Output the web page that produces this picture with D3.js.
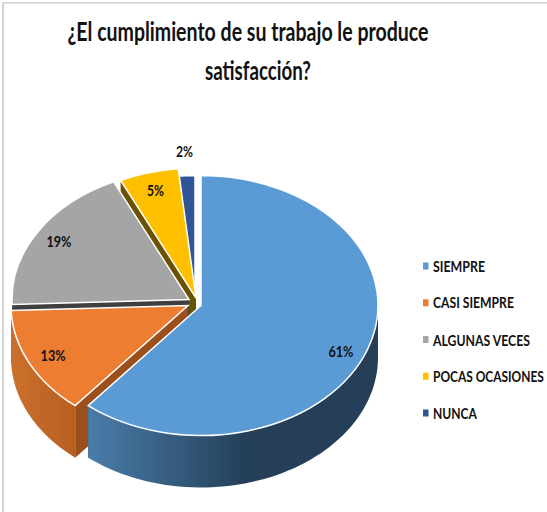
<!DOCTYPE html>
<html>
<head>
<meta charset="utf-8">
<script src="https://cdn.jsdelivr.net/npm/d3@7"></script>
<style>
html,body{margin:0;padding:0;background:#fff;}
svg{display:block;}
text{font-family:"Lato","Liberation Sans",sans-serif;font-weight:bold;fill:#111;}
</style>
</head>
<body>
<svg id="c" width="547" height="512"></svg>
<script>
const categories = ["SIEMPRE","CASI SIEMPRE","ALGUNAS VECES","POCAS OCASIONES","NUNCA"];
const seriesValues = [61,13.4,18.6,5.4,1.6];
const titleLines = ["¿El cumplimiento de su trabajo le produce","satisfacción?"];
const topColors = ["#5b9bd5","#ed7d31","#a5a5a5","#ffc000","#2f5597"];
const edgeColors = ["#24405a","#9a4f1c","#3f3f3f","#6b5200","#1f3864"];
const wallFrom = ["#4a7dab","#cb702c","#6a6a6a","#a07800","#1f3864"];
const wallTo = ["#243f57","#b85f20","#4a4a4a","#806000","#1f3864"];

const W=547,H=512,cx=201,cy=305.5,rx=177,ry=130,depth=52;
// pull-out of each slice, label radial factors and nudges
const shift=[[0,0],[-13,0],[-12,-6],[-5,-7.5],[-6,0]];
const labelK=[.84,.85,.86,.86,1.19];
const labelDY=[8,0,0,0,0];

const svg=d3.select("#c");
const defs=svg.append("defs");

// horizontally condense a text to a target width around its anchor point
function fit(sel,xf,yf,wf){
  sel.each(function(d,i){
    const n=d3.select(this);
    const sx=wf(d,i)/this.getComputedTextLength();
    n.attr("transform",`translate(${xf(d,i)},${yf(d,i)}) scale(${sx},1)`);
  });
}

// frame
svg.append("rect").attr("width",W).attr("height",H).attr("fill","#fff");
svg.append("rect").attr("x",2).attr("y",2).attr("width",W).attr("height",1.6).attr("fill","#d2d2d2");
svg.append("rect").attr("x",2).attr("y",2).attr("width",2).attr("height",H).attr("fill","#d2d2d2");

// title
const titleX=[248,258], titleY=[41,80], titleW=[361,106];
svg.selectAll("text.t").data(titleLines).join("text").attr("class","t")
  .attr("text-anchor","middle").attr("font-size",26)
  .text(d=>d)
  .call(fit,(d,i)=>titleX[i],(d,i)=>titleY[i],(d,i)=>titleW[i]);

// pie
const pie=d3.pie().sort(null).value(d=>d.v);
const slices=pie(seriesValues.map((v,i)=>({v,i})));
const arc=d3.arc().innerRadius(0).outerRadius(rx);
const line=d3.line();
const px=(a,ox)=>cx+ox[0]+rx*Math.sin(a);
const py=(a,ox)=>cy+ox[1]-ry*Math.cos(a);

// draw back to front
const order=[4,3,2,1,0];
const frontA=Math.PI/2, frontB=Math.PI*1.5;
order.forEach(i=>{
  const s=slices[i], o=shift[i];
  const center=[cx+o[0],cy+o[1]];
  [s.startAngle,s.endAngle].forEach(a=>{
    const tip=[px(a,o),py(a,o)];
    svg.append("path").attr("fill",edgeColors[i])
      .attr("d",line([center,tip,[tip[0],tip[1]+depth],[center[0],center[1]+depth]])+"Z");
  });
  const a0=Math.max(s.startAngle,frontA), a1=Math.min(s.endAngle,frontB);
  if(a1>a0){
    const steps=d3.range(0,61).map(k=>a0+(a1-a0)*k/60);
    const upper=steps.map(a=>[px(a,o),py(a,o)]);
    const lower=steps.slice().reverse().map(a=>[px(a,o),py(a,o)+depth]);
    const id="wall"+i;
    const xs=upper.map(p=>p[0]);
    const x0=d3.min(xs), x1=d3.min(xs)+(d3.max(xs)-d3.min(xs))*(i===0?0.55:1);
    const lg=defs.append("linearGradient").attr("id",id).attr("gradientUnits","userSpaceOnUse")
      .attr("x1",x0).attr("x2",x1).attr("y1",0).attr("y2",0);
    lg.append("stop").attr("offset",0).attr("stop-color",wallFrom[i]);
    lg.append("stop").attr("offset",1).attr("stop-color",wallTo[i]);
    svg.append("path").attr("fill",`url(#${id})`).attr("d",line(upper.concat(lower))+"Z");
  }
  svg.append("path")
    .attr("transform",`translate(${center[0]},${center[1]}) scale(1,${ry/rx})`)
    .attr("d",arc(s)).attr("fill",topColors[i])
    .attr("stroke","#fff").attr("stroke-width",1.5)
    .attr("vector-effect","non-scaling-stroke");
});

// data labels
const fmt=v=>d3.format(".0f")(v)+"%";
const labelW=s=>fmt(s.value).length>2?25:17;
svg.selectAll("text.l").data(slices).join("text").attr("class","l")
  .attr("font-size",16).attr("text-anchor","middle").attr("dominant-baseline","central")
  .text(s=>fmt(s.value))
  .call(fit,
    (s,i)=>{const m=(s.startAngle+s.endAngle)/2;return cx+shift[i][0]+labelK[i]*rx*Math.sin(m);},
    (s,i)=>{const m=(s.startAngle+s.endAngle)/2;return cy+shift[i][1]-labelK[i]*ry*Math.cos(m)+labelDY[i];},
    labelW);

// legend
const ly=d3.scalePoint().domain(categories).range([266,413]);
const lg=svg.selectAll("g.lg").data(categories).join("g").attr("class","lg")
  .attr("transform",d=>`translate(423,${ly(d)})`);
lg.append("rect").attr("x",0).attr("y",-3.5).attr("width",5.5).attr("height",7)
  .attr("fill",(d,i)=>topColors[i]);
const legW=[52,81,97,111,44];
lg.append("text").attr("dominant-baseline","central").attr("font-size",15)
  .text(d=>d)
  .call(fit,()=>10,()=>0,(d,i)=>legW[i]);
</script>
</body>
</html>
